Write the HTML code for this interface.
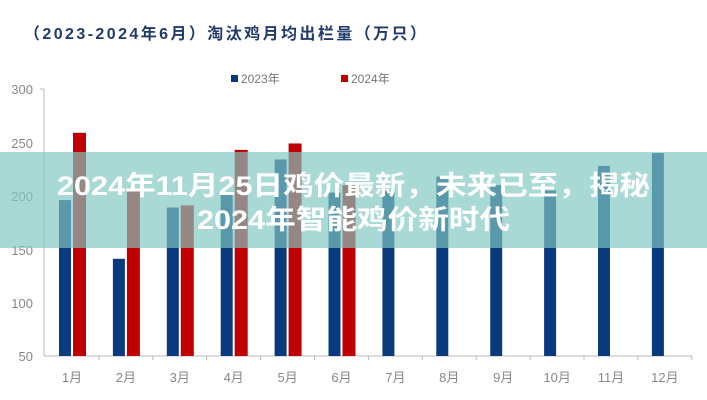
<!DOCTYPE html><html><head><meta charset="utf-8"><style>
body{margin:0;width:707px;height:400px;background:#fff;overflow:hidden;position:relative;font-family:"Liberation Sans","Noto Sans CJK SC",sans-serif}
</style></head><body>
<svg width="707" height="400" style="position:absolute;left:0;top:0" font-family="Liberation Sans, Noto Sans CJK SC, sans-serif">
<text x="24" y="39" font-size="16" font-weight="bold" fill="#1f3a6b" textLength="402">（2023-2024年6月）淘汰鸡月均出栏量（万只）</text>
<rect x="231" y="75" width="7" height="7" fill="#0a3a7e"/><text x="241" y="83" font-size="12" fill="#777">2023年</text>
<rect x="341" y="75" width="7" height="7" fill="#c00000"/><text x="351" y="83" font-size="12" fill="#777">2024年</text>
<g font-size="13" fill="#888" text-anchor="end">
<text x="33" y="94">300</text><text x="33" y="148">250</text><text x="33" y="201">200</text><text x="33" y="255">150</text><text x="33" y="308">100</text><text x="33" y="361">50</text></g>
<line x1="44" y1="89" x2="44" y2="356" stroke="#bbb"/>
<line x1="40" y1="89" x2="44" y2="89" stroke="#bbb"/>
<line x1="44" y1="356" x2="692" y2="356" stroke="#bbb"/>
<g id="bars"></g>
<g id="xl" font-size="13" fill="#888" text-anchor="middle"></g>
<rect x="0" y="152" width="707" height="96" fill="rgba(128,199,193,0.68)"/>
<text x="57" y="195" font-size="27" font-weight="bold" fill="#fff" textLength="593" lengthAdjust="spacingAndGlyphs">2024年11月25日鸡价最新，未来已至，揭秘</text>
<text x="197" y="229" font-size="27" font-weight="bold" fill="#fff" textLength="313" lengthAdjust="spacingAndGlyphs">2024年智能鸡价新时代</text>
</svg>
<script>
var a=[196,141,189,201,234,203,205,218,210,205,228,240],b=[259,207,191,243,249,210];
var g=document.getElementById('bars'),x=document.getElementById('xl'),s='',t='';
function y(v){return 356-(v-50)*1.068}
for(var i=0;i<12;i++){var c=45+i*53.9;
s+='<rect x="'+(c+14)+'" y="'+y(a[i])+'" width="12" height="'+(356-y(a[i]))+'" fill="#0a3a7e"/>';
if(i<6)s+='<rect x="'+(c+28)+'" y="'+y(b[i])+'" width="13" height="'+(356-y(b[i]))+'" fill="#c00000"/>';
s+='<line x1="'+(c+53.9)+'" y1="356" x2="'+(c+53.9)+'" y2="360" stroke="#bbb"/>';
t+='<text x="'+(c+27)+'" y="382">'+(i+1)+'月</text>';}
g.innerHTML=s;x.innerHTML=t;
</script>
</body></html>
